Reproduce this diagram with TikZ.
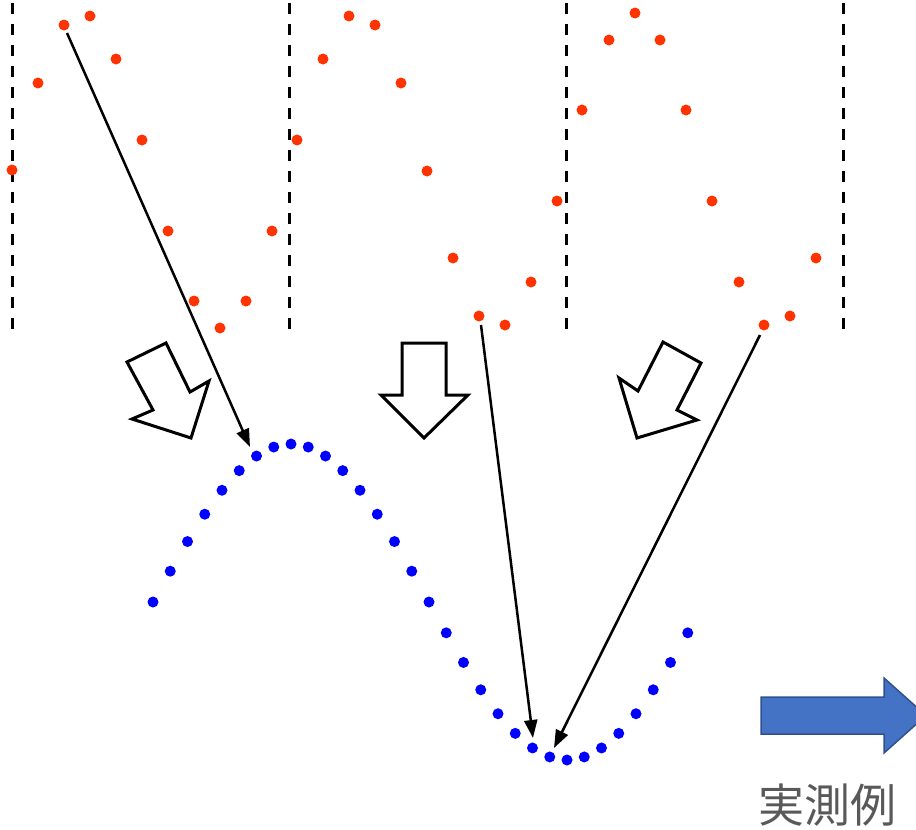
\documentclass[tikz,border=0pt]{standalone}
\usepackage{fontspec}
\newfontfamily\cjk{Noto Sans CJK JP}
\usetikzlibrary{arrows.meta}
\definecolor{reddot}{HTML}{FF3300}
\definecolor{bluedot}{HTML}{0000FF}
\definecolor{barrowfill}{HTML}{4472C4}
\definecolor{barrowline}{HTML}{2F528F}
\definecolor{labelgray}{HTML}{595959}
\tikzset{
  rdot/.style={circle,fill=reddot,inner sep=0pt,minimum size=11pt},
  bdot/.style={circle,fill=bluedot,inner sep=0pt,minimum size=11pt},
  divider/.style={line width=3pt,dash pattern=on 11pt off 10pt},
  hollowarrow/.style={line width=3pt,line join=miter,fill=white},
  pointer/.style={line width=2.5pt,-{Triangle[length=18pt,width=13pt]}},
  bigarrow/.style={fill=barrowfill,draw=barrowline,line width=1.5pt},
}
\begin{document}
\begin{tikzpicture}[x=1pt,y=-1pt]
\useasboundingbox (0,0) rectangle (916,830);
% dashed dividers
\foreach \dx [count=\i] in {12,289,566,843}
  \draw[divider] (\dx,3) coordinate (d\i t) -- (\dx,332) coordinate (d\i b);
% red dots
\foreach \px/\py [count=\i] in {12/170,38/83,64/25,90/16,116/59,142/140,168/231,194/301,220/328,246/301,272/231,
  297/140,323/59,349/16,375/25,401/83,427/171,453/258,479/316,505/325,531/282,557/201,
  582/110,609/40,635/13,660/40,686/110,712/201,739/282,764/325,790/316,816/258}
  \node[rdot] (r\i) at (\px,\py) {};
% blue dots
\foreach \i in {0,...,31}{
  \pgfmathsetmacro\bx{153+17.25*\i}
  \pgfmathsetmacro\by{602-158*cos((\bx-291)/276*180)}
  \node[bdot] (b\i) at (\bx,\by) {};
}
% hollow block arrows
\draw[hollowarrow] (127,362) -- (166,343) -- (190,392) -- (209,381) -- (191,438) -- (132,419) -- (153,410) -- cycle;
\draw[hollowarrow] (402,343) -- (446,343) -- (446,395) -- (468,395) -- (424,438) -- (381,395) -- (402,395) -- cycle;
\draw[hollowarrow] (663,342) -- (701,363) -- (677,410) -- (697,420) -- (637,438) -- (619,378) -- (638,391) -- cycle;
% pointers
\coordinate (p1s) at (67,33);   \coordinate (p1e) at (250,447);
\coordinate (p2s) at (481,325); \coordinate (p2e) at (533,738);
\coordinate (p3s) at (760,335); \coordinate (p3e) at (554,748);
\draw[pointer] (p1s) -- (p1e);
\draw[pointer] (p2s) -- (p2e);
\draw[pointer] (p3s) -- (p3e);
% big blue arrow
\draw[bigarrow] (761,697) -- (884,697) -- (884,678) -- (926,715.5) -- (884,753) -- (884,734) -- (761,734) -- cycle;
% label
\node[text=labelgray,font=\cjk\fontsize{46pt}{50pt}\selectfont,inner sep=0pt] (lbl) at (827,805) {実測例};
\end{tikzpicture}
\end{document}
